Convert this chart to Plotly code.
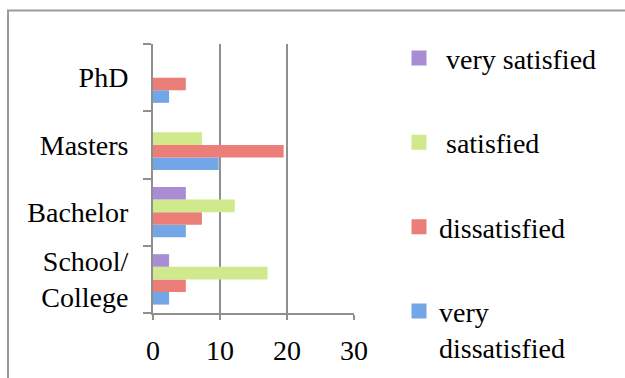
import plotly.graph_objects as go

# Education levels, bottom to top
levels = ["School/<br>College", "Bachelor", "Masters", "PhD"]

# Share of respondents (%) per satisfaction level
very_dissatisfied = [2.4, 4.9, 9.8, 2.4]
dissatisfied = [4.9, 7.3, 19.5, 4.9]
satisfied = [17.1, 12.2, 7.3, 0]
very_satisfied = [2.4, 4.9, 0, 0]

series = [
    ("very<br>dissatisfied", very_dissatisfied, "#72a6e6"),
    ("dissatisfied", dissatisfied, "#ec7e79"),
    (" satisfied", satisfied, "#cfe98c"),
    (" very satisfied", very_satisfied, "#a98dd4"),
]

FONT = "Liberation Serif"
FS = 28
GRID = "#8f8f8f"

fig = go.Figure()
for i, (name, vals, color) in enumerate(series):
    fig.add_trace(go.Bar(
        y=levels, x=vals, name=name, orientation="h",
        marker=dict(color=color, line=dict(width=0)),
        showlegend=False,
    ))

# legend keys: square swatches, top entry = highest satisfaction
for i, (name, vals, color) in enumerate(series):
    fig.add_trace(go.Scatter(
        x=[None], y=[None], mode="markers", name=name,
        marker=dict(symbol="square", size=15, color=color),
        legendgroup=f"g{i}", legendrank=len(series) - i,
        showlegend=True,
    ))

W, H = 625, 378
L, R, T, B = 153, 271, 44, 60
pw, ph = W - L - R, H - T - B

def px_x(p):
    return (p - L) / pw

def px_y(p):
    return (H - B - p) / ph

# outer chart frame
fig.add_shape(type="rect", xref="paper", yref="paper",
              x0=px_x(8), x1=px_x(640), y0=px_y(390), y1=px_y(10),
              line=dict(color="#9a9a9a", width=2), fillcolor="rgba(0,0,0,0)",
              layer="below")

fig.update_layout(
    width=W, height=H,
    margin=dict(l=L, r=R, t=T, b=B),
    paper_bgcolor="white", plot_bgcolor="white",
    barmode="group", bargap=0.25, bargroupgap=0,
    font=dict(family=FONT, size=FS, color="#000"),
    showlegend=True,
    legend=dict(
        x=px_x(399), xanchor="left", y=px_y(33), yanchor="top",
        traceorder="grouped", tracegroupgap=45,
        valign="top", itemwidth=30, maxheight=370,
        font=dict(family=FONT, size=FS, color="#000"),
        bgcolor="rgba(0,0,0,0)",
    ),
    xaxis=dict(
        range=[0, 30], tickvals=[0, 10, 20, 30],
        showgrid=True, gridcolor=GRID, gridwidth=2,
        showline=True, linecolor=GRID, linewidth=2,
        ticks="outside", ticklen=5, tickcolor=GRID, tickwidth=2,
        zeroline=False, ticklabelstandoff=6,
        tickfont=dict(family=FONT, size=FS, color="#000"),
        fixedrange=True,
    ),
    yaxis=dict(
        type="category", categoryorder="array", categoryarray=levels,
        showgrid=False, showline=True, linecolor=GRID, linewidth=2,
        ticks="outside", ticklen=8, tickcolor=GRID, tickwidth=2,
        tickson="boundaries", ticklabelstandoff=17,
        tickfont=dict(family=FONT, size=FS, color="#000"),
        fixedrange=True,
    ),
)

fig.write_html("out.html")
